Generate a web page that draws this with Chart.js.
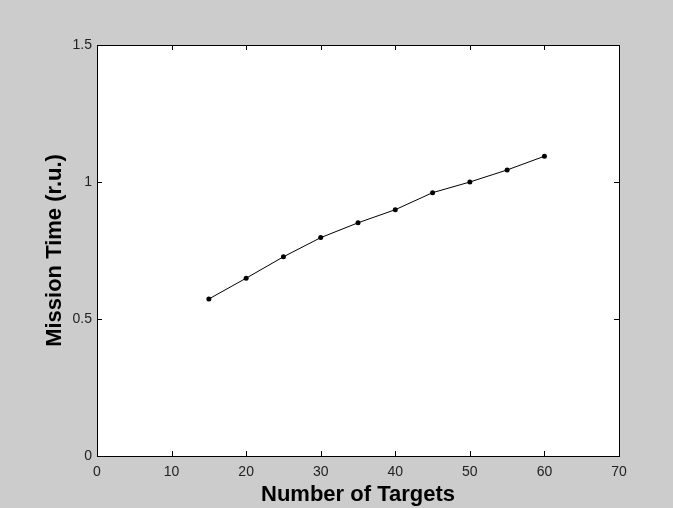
<!DOCTYPE html>
<html>
<head>
<meta charset="utf-8">
<script src="https://cdn.jsdelivr.net/npm/chart.js@4"></script>
<style>
  html, body { margin: 0; padding: 0; background: #cccccc; }
  #wrap { width: 673px; height: 508px; }
</style>
</head>
<body>
<div id="wrap"><canvas id="c" width="673" height="508"></canvas></div>
<script>
// data
const targets     = [15, 20, 25, 30, 35, 40, 45, 50, 55, 60];
const missionTime = [0.573, 0.649, 0.727, 0.797, 0.851, 0.899, 0.961, 1.0, 1.044, 1.094];
const xTicks      = [0, 10, 20, 30, 40, 50, 60, 70];
const yTicks      = [0, 0.5, 1, 1.5];

const TICK_FONT  = { family: "'Liberation Sans', Arial, sans-serif", size: 14 };
const TITLE_FONT = { family: "'Liberation Sans', Arial, sans-serif", size: 22, weight: 'bold' };

// white axes box, matlab style inward ticks on all four sides
const boxPlugin = {
  id: 'box',
  beforeDraw(chart) {
    const { ctx, chartArea: a } = chart;
    ctx.save();
    ctx.fillStyle = '#ffffff';
    ctx.fillRect(a.left, a.top, a.right - a.left, a.bottom - a.top);
    ctx.restore();
  },
  afterDatasetsDraw(chart) {
    const { ctx, chartArea: a, scales } = chart;
    const len = 5;
    ctx.save();
    ctx.strokeStyle = '#000';
    ctx.lineWidth = 1;
    ctx.beginPath();
    xTicks.forEach(v => {
      const x = Math.round(scales.x.getPixelForValue(v)) + 0.5;
      ctx.moveTo(x, a.bottom); ctx.lineTo(x, a.bottom - len);
      ctx.moveTo(x, a.top);    ctx.lineTo(x, a.top + len);
    });
    yTicks.forEach(v => {
      const y = Math.round(scales.y.getPixelForValue(v)) + 0.5;
      ctx.moveTo(a.left, y);  ctx.lineTo(a.left + len, y);
      ctx.moveTo(a.right, y); ctx.lineTo(a.right - len, y);
    });
    ctx.stroke();
    ctx.strokeRect(Math.round(a.left) + 0.5, Math.round(a.top) + 0.5,
                   Math.round(a.right - a.left), Math.round(a.bottom - a.top));
    ctx.restore();
  }
};

new Chart(document.getElementById('c'), {
  type: 'line',
  data: {
    datasets: [{
      data: targets.map((t, i) => ({ x: t, y: missionTime[i] })),
      borderColor: '#000',
      borderWidth: 1,
      pointBackgroundColor: '#000',
      pointBorderColor: '#000',
      pointRadius: 2.5,
      pointBorderWidth: 0,
      tension: 0
    }]
  },
  options: {
    responsive: false,
    animation: false,
    layout: { padding: { top: 45, right: 54, left: 0, bottom: 0 } },
    plugins: { legend: { display: false }, tooltip: { enabled: false } },
    scales: {
      x: {
        type: 'linear',
        min: 0, max: 70,
        afterBuildTicks: s => { s.ticks = xTicks.map(v => ({ value: v })); },
        afterFit: s => { s.height = 52; },
        grid: { display: false, drawTicks: false },
        border: { display: false },
        ticks: { font: TICK_FONT, color: '#222', padding: 8, maxRotation: 0 },
        title: { display: true, text: 'Number of Targets', font: TITLE_FONT, color: '#000', padding: { top: 0, bottom: 0 } }
      },
      y: {
        min: 0, max: 1.5,
        afterBuildTicks: s => { s.ticks = yTicks.map(v => ({ value: v })); },
        afterFit: s => { s.width = 97; },
        grid: { display: false, drawTicks: false },
        border: { display: false },
        ticks: { font: TICK_FONT, color: '#222', padding: 5, callback: v => String(v) },
        title: { display: true, text: 'Mission Time (r.u.)', font: TITLE_FONT, color: '#000', padding: { top: 42, bottom: 0 } }
      }
    }
  },
  plugins: [boxPlugin]
});
</script>
</body>
</html>
